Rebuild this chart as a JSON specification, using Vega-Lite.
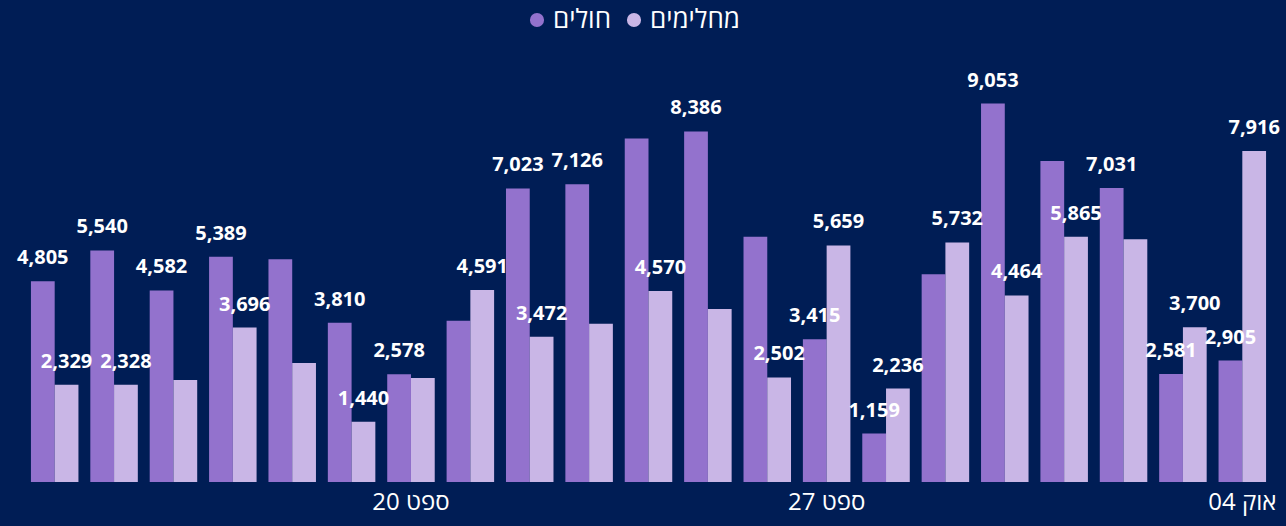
{
  "$schema": "https://vega.github.io/schema/vega-lite/v6.json",
  "width": 1247,
  "height": 418,
  "autosize": {"type": "none"},
  "padding": {"left": 25, "top": 64, "right": 14, "bottom": 44},
  "background": "#001D55",
  "config": {"view": {"stroke": null}, "font": "Open Sans"},
  "data": {
    "values": [
      {"date": "ספט 14", "series": "חולים", "value": 4805, "show": true},
      {"date": "ספט 14", "series": "מחלימים", "value": 2329, "show": true},
      {"date": "ספט 15", "series": "חולים", "value": 5540, "show": true},
      {"date": "ספט 15", "series": "מחלימים", "value": 2328, "show": true},
      {"date": "ספט 16", "series": "חולים", "value": 4582, "show": true},
      {"date": "ספט 16", "series": "מחלימים", "value": 2440, "show": false},
      {"date": "ספט 17", "series": "חולים", "value": 5389, "show": true},
      {"date": "ספט 17", "series": "מחלימים", "value": 3696, "show": true},
      {"date": "ספט 18", "series": "חולים", "value": 5330, "show": false},
      {"date": "ספט 18", "series": "מחלימים", "value": 2845, "show": false},
      {"date": "ספט 19", "series": "חולים", "value": 3810, "show": true},
      {"date": "ספט 19", "series": "מחלימים", "value": 1440, "show": true},
      {"date": "ספט 20", "series": "חולים", "value": 2578, "show": true},
      {"date": "ספט 20", "series": "מחלימים", "value": 2490, "show": false},
      {"date": "ספט 21", "series": "חולים", "value": 3855, "show": false},
      {"date": "ספט 21", "series": "מחלימים", "value": 4591, "show": true},
      {"date": "ספט 22", "series": "חולים", "value": 7023, "show": true},
      {"date": "ספט 22", "series": "מחלימים", "value": 3472, "show": true},
      {"date": "ספט 23", "series": "חולים", "value": 7126, "show": true},
      {"date": "ספט 23", "series": "מחלימים", "value": 3785, "show": false},
      {"date": "ספט 24", "series": "חולים", "value": 8220, "show": false},
      {"date": "ספט 24", "series": "מחלימים", "value": 4570, "show": true},
      {"date": "ספט 25", "series": "חולים", "value": 8386, "show": true},
      {"date": "ספט 25", "series": "מחלימים", "value": 4140, "show": false},
      {"date": "ספט 26", "series": "חולים", "value": 5865, "show": false},
      {"date": "ספט 26", "series": "מחלימים", "value": 2502, "show": true},
      {"date": "ספט 27", "series": "חולים", "value": 3415, "show": true},
      {"date": "ספט 27", "series": "מחלימים", "value": 5659, "show": true},
      {"date": "ספט 28", "series": "חולים", "value": 1159, "show": true},
      {"date": "ספט 28", "series": "מחלימים", "value": 2236, "show": true},
      {"date": "ספט 29", "series": "חולים", "value": 4970, "show": false},
      {"date": "ספט 29", "series": "מחלימים", "value": 5732, "show": true},
      {"date": "ספט 30", "series": "חולים", "value": 9053, "show": true},
      {"date": "ספט 30", "series": "מחלימים", "value": 4464, "show": true},
      {"date": "אוק 01", "series": "חולים", "value": 7680, "show": false},
      {"date": "אוק 01", "series": "מחלימים", "value": 5865, "show": true},
      {"date": "אוק 02", "series": "חולים", "value": 7031, "show": true},
      {"date": "אוק 02", "series": "מחלימים", "value": 5810, "show": false},
      {"date": "אוק 03", "series": "חולים", "value": 2581, "show": true},
      {"date": "אוק 03", "series": "מחלימים", "value": 3700, "show": true},
      {"date": "אוק 04", "series": "חולים", "value": 2905, "show": true},
      {"date": "אוק 04", "series": "מחלימים", "value": 7916, "show": true}
    ]
  },
  "encoding": {
    "x": {
      "field": "date",
      "type": "ordinal",
      "sort": null,
      "scale": {"paddingInner": 0.2, "paddingOuter": 0.1},
      "axis": {
        "values": ["ספט 20", "ספט 27", "אוק 04"],
        "domain": false,
        "ticks": false,
        "tickSize": 0,
        "grid": false,
        "title": null,
        "labelAngle": 0,
        "labelColor": "white",
        "labelFontSize": 24,
        "labelFont": "Open Sans",
        "labelPadding": 8
      }
    },
    "xOffset": {
      "field": "series",
      "type": "nominal",
      "sort": ["חולים", "מחלימים"],
      "scale": {"paddingInner": 0, "paddingOuter": 0}
    },
    "y": {
      "field": "value",
      "type": "quantitative",
      "scale": {"domain": [0, 10000]},
      "axis": null
    }
  },
  "layer": [
    {
      "mark": {"type": "bar"},
      "encoding": {
        "color": {
          "field": "series",
          "type": "nominal",
          "scale": {"domain": ["חולים", "מחלימים"], "range": ["#9372CD", "#C9B6E6"]},
          "legend": {
            "orient": "none",
            "legendX": 499,
            "legendY": -57,
            "direction": "horizontal",
            "title": null,
            "padding": 0,
            "labelFontSize": 26,
            "labelFont": "Open Sans",
            "labelColor": "white",
            "symbolType": "circle",
            "symbolSize": 200,
            "symbolOpacity": 1,
            "symbolStrokeWidth": 0,
            "labelOffset": 3,
            "columnPadding": 10
          }
        }
      }
    },
    {
      "transform": [{"filter": "datum.show"}],
      "mark": {
        "type": "text",
        "baseline": "alphabetic",
        "dy": -17,
        "fontSize": 20,
        "fontWeight": "bold",
        "font": "Open Sans",
        "color": "white"
      },
      "encoding": {
        "text": {"field": "value", "type": "quantitative", "format": ","}
      }
    }
  ]
}
